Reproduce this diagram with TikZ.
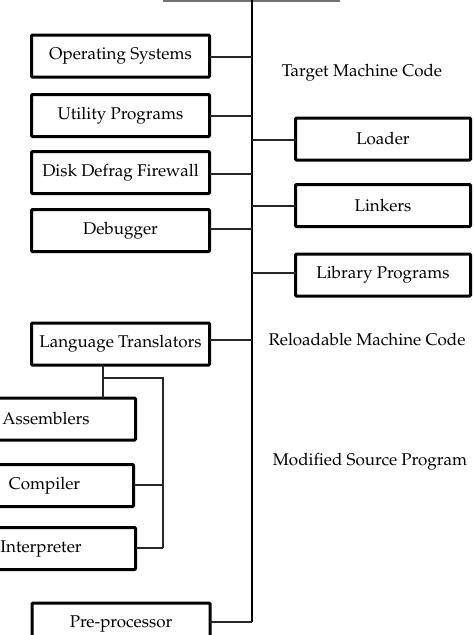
\documentclass[tikz,border=0pt]{standalone}
\usepackage[T1]{fontenc}
\usepackage{mathpazo}
\begin{document}
\begin{tikzpicture}[x=1pt,y=-1pt,
  box/.style={draw=black,line width=3pt,rectangle,rounded corners=1pt,outer sep=0pt,inner sep=0pt,
    font=\fontsize{17}{20}\selectfont,minimum height=42pt},
  lbox/.style={box,minimum width=178pt},
  rbox/.style={box,minimum width=175pt},
  conn/.style={line width=1.3pt,draw=black!85},
  trunkline/.style={line width=2.8pt,draw=black},
  lbl/.style={font=\fontsize{17}{20}\selectfont,inner sep=0pt}]
\path[use as bounding box,clip] (0,0) rectangle (474,635);
\fill[white] (0,0) rectangle (474,635);
% top bar and trunk
\coordinate (barL) at (163,0.8);
\coordinate (barR) at (340,0.8);
\draw[line width=2pt,draw=black!55] (barL) -- (barR);
\coordinate (ttop) at (252,-2);
\coordinate (tbot) at (252,622);
\draw[trunkline] (ttop) -- (tbot);
% left boxes
\node[lbox] (os) at (120.5,56) {Operating Systems};
\node[lbox] (up) at (120.5,115.5) {Utility Programs};
\node[lbox] (dd) at (120.5,172.5) {Disk Defrag Firewall};
\node[lbox] (db) at (120.5,230.5) {Debugger};
\node[lbox] (lt) at (120.5,344) {Language Translators};
\node[lbox] (pp) at (121,624) {Pre-processor};
% right boxes
\node[rbox] (ld) at (383,139) {Loader};
\node[rbox] (lk) at (383,205.5) {Linkers};
\node[rbox] (lp) at (383,275) {Library Programs};
% translator children
\node[box,minimum width=179pt] (as) at (46,419) {Assemblers};
\node[box,minimum width=178pt] (cp) at (44.5,485.5) {Compiler};
\node[box,minimum width=189pt] (ip) at (41,548.5) {Interpreter};
% labels
\node[lbl] (tmc) at (362,73) {Target Machine Code};
\node[lbl] (rmc) at (367,340) {Reloadable Machine Code};
\node[lbl] (msp) at (370,462) {Modified Source Program};
% connectors to trunk
\foreach \n/\yy in {os/57,up/116,dd/174,db/229,lt/340}{
  \draw[conn] (\n.east |- 0,\yy) -- (252,\yy);
}
\foreach \n/\yy in {ld/140,lk/206,lp/273}{
  \draw[conn] (252,\yy) -- (\n.west |- 0,\yy);
}
\draw[conn] (pp.east |- tbot) -- (tbot);
% translator tree
\coordinate (ltb) at (103,367);
\coordinate (jn) at (103,378);
\coordinate (vtop) at (163,378);
\coordinate (vbot) at (163,548);
\draw[conn] (lt.south -| ltb) -- (as.north -| ltb);
\draw[conn] (jn) -- (vtop) -- (vbot);
\draw[conn] (cp.east |- 0,485) -- (163,485);
\draw[conn] (ip.east |- vbot) -- (vbot);
\end{tikzpicture}
\end{document}
